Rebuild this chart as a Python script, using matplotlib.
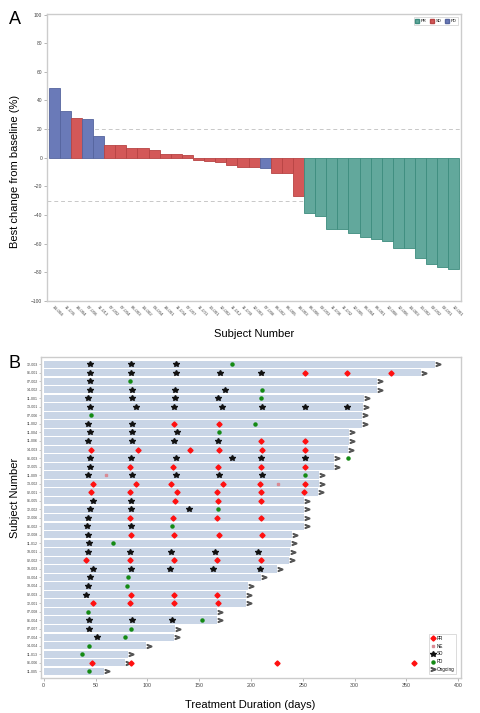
import numpy as np
import matplotlib
matplotlib.use('Agg')
import matplotlib.pyplot as plt
from matplotlib.lines import Line2D
from matplotlib.patches import Patch

plt.rcParams['font.family'] = ['Liberation Sans', 'DejaVu Sans']

# ---- panel A: waterfall ----
subjects_a = ['14-004', '11-005', '18-004', '07-006', '11-013', '07-002', '07-004', '06-003',
              '14-002', '03-004', '18-001', '11-004', '07-007', '11-001', '13-001', '12-002',
              '11-012', '11-009', '12-003', '07-008', '06-002', '06-005', '18-003', '06-006',
              '02-003', '11-006', '11-002', '12-005', '06-004', '06-001', '12-008', '12-006',
              '14-003', '13-002', '02-002', '02-001', '12-001']
best_change = [49, 33, 27.6, 27, 15, 8.6, 8.6, 6.8, 6.7, 5.7, 2.8, 2.4, 1.7, -1.5, -2.2, -2.9,
               -5.0, -6.4, -6.4, -7.3, -10.5, -11, -26.7, -38.7, -41, -49.5, -49.5, -52.7,
               -55.5, -56.5, -57.9, -63.3, -63.3, -69.8, -74.5, -76.4, -78]
response_a = ['PD', 'PD', 'SD', 'PD', 'PD', 'SD', 'SD', 'SD', 'SD', 'SD', 'SD', 'SD', 'SD',
              'SD', 'SD', 'SD', 'SD', 'SD', 'SD', 'PD', 'SD', 'SD', 'SD', 'PR', 'PR', 'PR',
              'PR', 'PR', 'PR', 'PR', 'PR', 'PR', 'PR', 'PR', 'PR', 'PR', 'PR']

# ---- panel B: swimmer ----
subjects_b = ['12-003', '06-001', '07-002', '14-002', '11-001', '13-001', '07-006', '11-002',
              '11-004', '11-006', '14-003', '06-003', '12-005', '11-009', '13-002', '02-001',
              '06-005', '12-002', '12-006', '06-002', '12-008', '11-012', '18-001', '02-002',
              '18-003', '03-004', '18-004', '02-003', '12-001', '07-008', '06-004', '07-007',
              '07-004', '14-004', '11-013', '06-006', '11-005']
duration = [378, 364, 322, 322, 309, 308, 307, 307, 295, 295, 294, 280, 280, 266, 266, 265,
            251, 251, 251, 251, 240, 239, 238, 237, 225, 210, 197, 195, 195, 167, 167, 127,
            126, 99, 81, 78, 58]
pr_days = [[], [252, 293, 335], [], [], [], [], [], [126, 169], [], [210, 252],
           [46, 91, 141, 169, 211, 252], [], [83, 125, 168, 210, 252], [],
           [48, 89, 123, 173, 209, 252], [46, 83, 129, 167, 210, 251], [127, 168, 210], [],
           [83, 125, 167, 210], [], [84, 126, 169, 211], [], [], [41, 83, 126, 167, 210], [],
           [], [], [84, 126, 167], [48, 83, 126, 168], [], [], [], [], [], [], [47, 84, 225, 357], []]
ne_days = [[], [], [], [], [], [], [], [], [], [], [], [], [], [60], [226], [], [], [], [], [],
           [], [], [], [], [], [], [], [], [], [], [], [], [], [], [], [], []]
sd_days = [[45, 84, 128], [45, 84, 128, 170, 210], [45], [45, 85, 127, 175], [43, 85, 127, 168],
           [45, 89, 126, 172, 211, 252, 293], [], [43, 85], [45, 85, 129], [43, 85, 126, 168], [],
           [45, 84, 128, 182, 210, 252], [45], [43, 85, 128, 169, 211], [], [], [48, 84],
           [45, 84, 140], [43], [42, 84], [43], [44], [43, 83, 123, 165, 207], [],
           [48, 84, 122, 163, 209], [45], [43], [41], [], [], [44, 85, 124], [44], [51], [], [], [], []]
pd_days = [[182], [], [83], [211], [210], [], [46], [204], [169], [], [], [294], [], [252], [],
           [], [], [168], [], [124], [], [67], [], [], [], [81], [80], [], [], [43], [153], [84],
           [78], [44], [37], [], [44]]

colors = {'PR': '#62a89c', 'SD': '#d35858', 'PD': '#6a7ab8'}
edges = {'PR': '#3d8c7e', 'SD': '#b84444', 'PD': '#55649e'}
spine_col = '#cccccc'

fig = plt.figure(figsize=(4.81, 7.13), dpi=100)

axA = fig.add_axes([0.0977, 0.578, 0.861, 0.4025])
x = np.arange(len(subjects_a))
axA.bar(x, best_change, width=1.0,
        color=[colors[r] for r in response_a],
        edgecolor=[edges[r] for r in response_a], linewidth=0.6)
axA.axhline(20, color='#c8c8c8', lw=0.7, ls=(0, (4, 3)), zorder=0)
axA.axhline(-30, color='#c8c8c8', lw=0.7, ls=(0, (4, 3)), zorder=0)
axA.set_xlim(-0.65, len(subjects_a) - 0.35)
axA.set_ylim(-100, 100.5)
axA.set_yticks(np.arange(-100, 101, 20))
axA.tick_params(axis='y', labelsize=3.5, length=2, width=0.5, color='#999999', labelcolor='#444444', pad=1.5)
axA.set_xticks(x)
axA.set_xticklabels(subjects_a, rotation=-45, ha='left', rotation_mode='anchor', fontsize=3.2, color='#444444')
axA.tick_params(axis='x', length=0, pad=3)
for s in axA.spines.values():
    s.set_color(spine_col)
    s.set_linewidth(1.0)
axA.set_ylabel('Best change from baseline (%)', fontsize=8)
axA.yaxis.set_label_coords(-0.065, 0.45)
axA.set_xlabel('Subject Number', fontsize=8)
axA.xaxis.set_label_coords(0.5, -0.098)
hA = [Patch(facecolor=colors[k], edgecolor=edges[k], label=k) for k in ['PR', 'SD', 'PD']]
legA = axA.legend(handles=hA, loc='upper right', ncol=3, fontsize=3, handlelength=0.9, handleheight=0.9,
                  handletextpad=0.4, columnspacing=0.9, borderpad=0.4, frameon=True, fancybox=False,
                  bbox_to_anchor=(0.998, 0.995))
legA.get_frame().set_edgecolor('#cccccc')
legA.get_frame().set_linewidth(0.6)

# ---- panel B ----
axB = fig.add_axes([0.0859, 0.0495, 0.872, 0.450])
y = np.arange(len(subjects_b))
axB.barh(y, duration, height=0.86, color='#c9d5e6', left=0, zorder=1)
for i in range(len(subjects_b)):
    axB.plot(duration[i] + 3, i, marker=r'$>$', ms=3.2, color='#555555', ls='none', zorder=3)
    if pr_days[i]:
        axB.plot(pr_days[i], [i] * len(pr_days[i]), marker='D', ms=2.6, color='#ff1010', ls='none', zorder=3)
    if ne_days[i]:
        axB.plot(ne_days[i], [i] * len(ne_days[i]), marker='s', ms=1.8, color='#d98a94', ls='none', zorder=3)
    if sd_days[i]:
        axB.plot(sd_days[i], [i] * len(sd_days[i]), marker='*', ms=4.2, color='#111111', ls='none', zorder=3)
    if pd_days[i]:
        axB.plot(pd_days[i], [i] * len(pd_days[i]), marker='o', ms=2.2, color='#148a14', ls='none', zorder=3)
axB.set_ylim(len(subjects_b) - 0.25, -0.86)
axB.set_xlim(-2.3, 402.5)
axB.set_xticks(np.arange(0, 401, 50))
axB.tick_params(axis='x', labelsize=3.8, length=2, width=0.5, color='#999999', labelcolor='#444444', pad=1.5)
axB.set_yticks(y)
axB.set_yticklabels(subjects_b, fontsize=2.6, color='#444444')
axB.tick_params(axis='y', length=1.5, width=0.4, color='#999999', pad=1)
for s in axB.spines.values():
    s.set_color(spine_col)
    s.set_linewidth(1.0)
axB.set_ylabel('Subject Number', fontsize=8)
axB.yaxis.set_label_coords(-0.051, 0.56)
axB.set_xlabel('Treatment Duration (days)', fontsize=8)
axB.xaxis.set_label_coords(0.497, -0.069)
hB = [Line2D([], [], marker='D', ms=2.6, color='#ff1010', ls='none', label='PR'),
      Line2D([], [], marker='s', ms=1.8, color='#d98a94', ls='none', label='NE'),
      Line2D([], [], marker='*', ms=4.2, color='#111111', ls='none', label='SD'),
      Line2D([], [], marker='o', ms=2.2, color='#148a14', ls='none', label='PD'),
      Line2D([], [], marker=r'$>$', ms=3.2, color='#555555', ls='none', label='Ongoing')]
legB = axB.legend(handles=hB, loc='lower right', fontsize=3.3, handlelength=1.0, handletextpad=0.3,
                  labelspacing=0.6, borderpad=0.4, frameon=True, fancybox=False,
                  bbox_to_anchor=(0.995, 0.005))
legB.get_frame().set_edgecolor('#cccccc')
legB.get_frame().set_linewidth(0.6)

fig.text(15 / 481, 1 - 19.5 / 713, 'A', fontsize=13, ha='center', va='center')
fig.text(15 / 481, 1 - 364 / 713, 'B', fontsize=13, ha='center', va='center')

fig.savefig('out.png', dpi=100)
